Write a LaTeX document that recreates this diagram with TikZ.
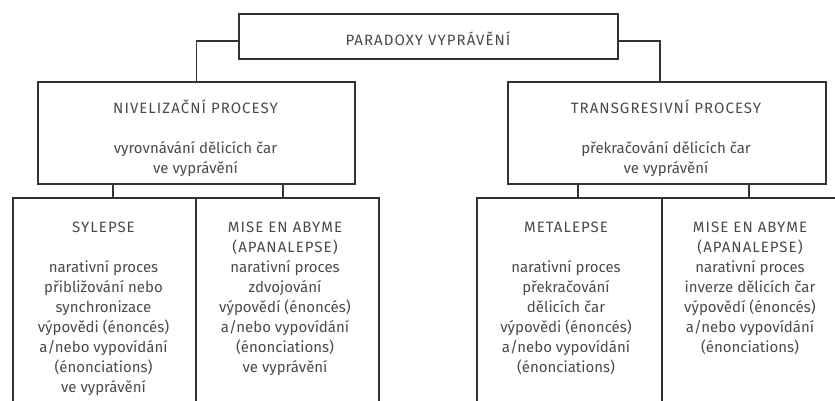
\documentclass[tikz,border=0pt]{standalone}
\usepackage{fontspec}
\setmainfont{Fira Sans}
\definecolor{txtc}{HTML}{4a4a4a}
\definecolor{linec}{HTML}{333333}
\newcommand{\topstr}{\rule{0pt}{15pt}}
\newcommand{\capsl}[1]{{\addfontfeature{LetterSpace=7}#1}}
\begin{document}
\begin{tikzpicture}[x=1pt,y=-1pt,
  box/.style={draw=linec, line width=1.7pt, rectangle, inner sep=0pt, anchor=north west},
  txt/.style={text=txtc, align=center, inner sep=0pt, anchor=north, font=\fontsize{15}{20}\selectfont},
  conn/.style={draw=linec, line width=1.7pt}]
\useasboundingbox (0,0) rectangle (835,400);
\clip (0,0) rectangle (835,400);
% top
\node[box, minimum width=379pt, minimum height=45pt] (top) at (238,13) {};
\node[txt] (toptxt) at (428,30) {\topstr\capsl{PARADOXY VYPRÁVĚNÍ}};
% level 2
\node[box, minimum width=317pt, minimum height=102pt] (niv) at (37,81) {};
\node[txt] (nivtxt) at (195.5,98) {\topstr\capsl{NIVELIZAČNÍ PROCESY}\\[20pt] vyrovnávání dělicích čar\\ ve vyprávění};
\node[box, minimum width=318pt, minimum height=102pt] (tra) at (507,81) {};
\node[txt] (tratxt) at (666,98) {\topstr\capsl{TRANSGRESIVNÍ PROCESY}\\[20pt] překračování dělicích čar\\ ve vyprávění};
% level 3
\node[box, minimum width=183pt, minimum height=230pt] (syl) at (12,197) {};
\node[box, minimum width=183pt, minimum height=230pt] (mis1) at (195,197) {};
\node[box, minimum width=185pt, minimum height=230pt] (met) at (476,197) {};
\node[box, minimum width=178pt, minimum height=230pt] (mis2) at (661,197) {};
\node[txt] (syltxt) at (103.5,217) {\topstr\capsl{SYLEPSE}\\[20pt] narativní proces\\ přibližování nebo\\ synchronizace\\ výpovědi (énoncés)\\ a/nebo vypovídání\\ (énonciations)\\ ve vyprávění};
\node[txt] (mis1txt) at (285,217) {\topstr\capsl{MISE EN ABYME}\\ \capsl{(APANALEPSE)}\\ narativní proces\\ zdvojování\\ výpovědí (énoncés)\\ a/nebo vypovídání\\ (énonciations)\\ ve vyprávění};
\node[txt] (mettxt) at (566,217) {\topstr\capsl{METALEPSE}\\[20pt] narativní proces\\ překračování\\ dělicích čar\\ výpovědi (énoncés)\\ a/nebo vypovídání\\ (énonciations)};
\node[txt] (mis2txt) at (750,217) {\topstr\capsl{MISE EN ABYME}\\ \capsl{(APANALEPSE)}\\ narativní proces\\ inverze dělicích čar\\ výpovědí (énoncés)\\ a/nebo vypovídání\\ (énonciations)};
% connectors
\draw[conn] (top.west |- 0,41) -| (niv.north);
\draw[conn] (top.east |- 0,41) -| (tra.north -| 660,0);
\draw[conn] (niv.south -| 113,0) -- (syl.north -| 113,0);
\draw[conn] (niv.south -| 283,0) -- (mis1.north -| 283,0);
\draw[conn] (tra.south -| 578,0) -- (met.north -| 578,0);
\draw[conn] (tra.south -| 749,0) -- (mis2.north -| 749,0);
\end{tikzpicture}
\end{document}
